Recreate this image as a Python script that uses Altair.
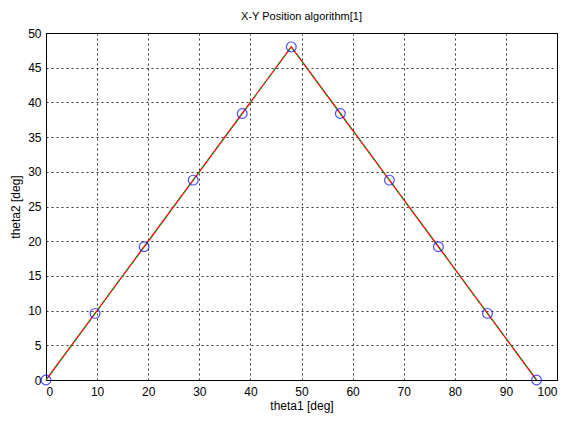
import altair as alt
import pandas as pd

theta1 = [0, 9.6, 19.2, 28.8, 38.4, 48, 57.6, 67.2, 76.8, 86.4, 96]
theta2 = [0, 9.6, 19.2, 28.8, 38.4, 48, 38.4, 28.8, 19.2, 9.6, 0]
x_ticks = list(range(0, 101, 10))
y_ticks = list(range(0, 51, 5))

df = pd.DataFrame({"theta1": theta1, "theta2": theta2})

font = "Liberation Sans"
xs = alt.Scale(domain=[0, 100], nice=False)
ys = alt.Scale(domain=[0, 50], nice=False)

common = dict(grid=True, gridDash=[2, 3], gridColor="#000000", gridOpacity=0.8,
              domainColor="#000000", tickColor="#000000", tickSize=0,
              labelColor="#000000", titleColor="#000000", labelFontSize=12,
              titleFontSize=12, titleFontWeight="normal", labelFont=font, titleFont=font,
              labelOverlap=False)
xaxis = alt.Axis(values=x_ticks, title="theta1 [deg]", labelPadding=6, titlePadding=3, **common)
yaxis = alt.Axis(values=y_ticks, title="theta2 [deg]", labelPadding=5, titlePadding=5, **common)

base = alt.Chart(df).encode(
    x=alt.X("theta1:Q", scale=xs, axis=xaxis),
    y=alt.Y("theta2:Q", scale=ys, axis=yaxis),
)
red = base.mark_line(color="#ff0000", strokeWidth=1.3)
green = base.mark_line(color="#00a000", strokeWidth=1.2, strokeDash=[3, 5])
pts = base.mark_point(shape="circle", filled=False, color="#0000ff", size=95, strokeWidth=1.2)

chart = alt.layer(red, green, pts).properties(
    width=511, height=347,
    title=alt.TitleParams("X-Y Position algorithm[1]", font=font, fontSize=11,
                          fontWeight="normal", color="#000000", offset=5),
    autosize=alt.AutoSizeParams(type="none"),
    padding={"left": 38, "top": 25, "right": 11, "bottom": 38},
    background="#ffffff",
).configure_view(stroke="#000000", strokeWidth=1)

chart.save("out.html", embed_options={"renderer": "svg", "actions": False})
